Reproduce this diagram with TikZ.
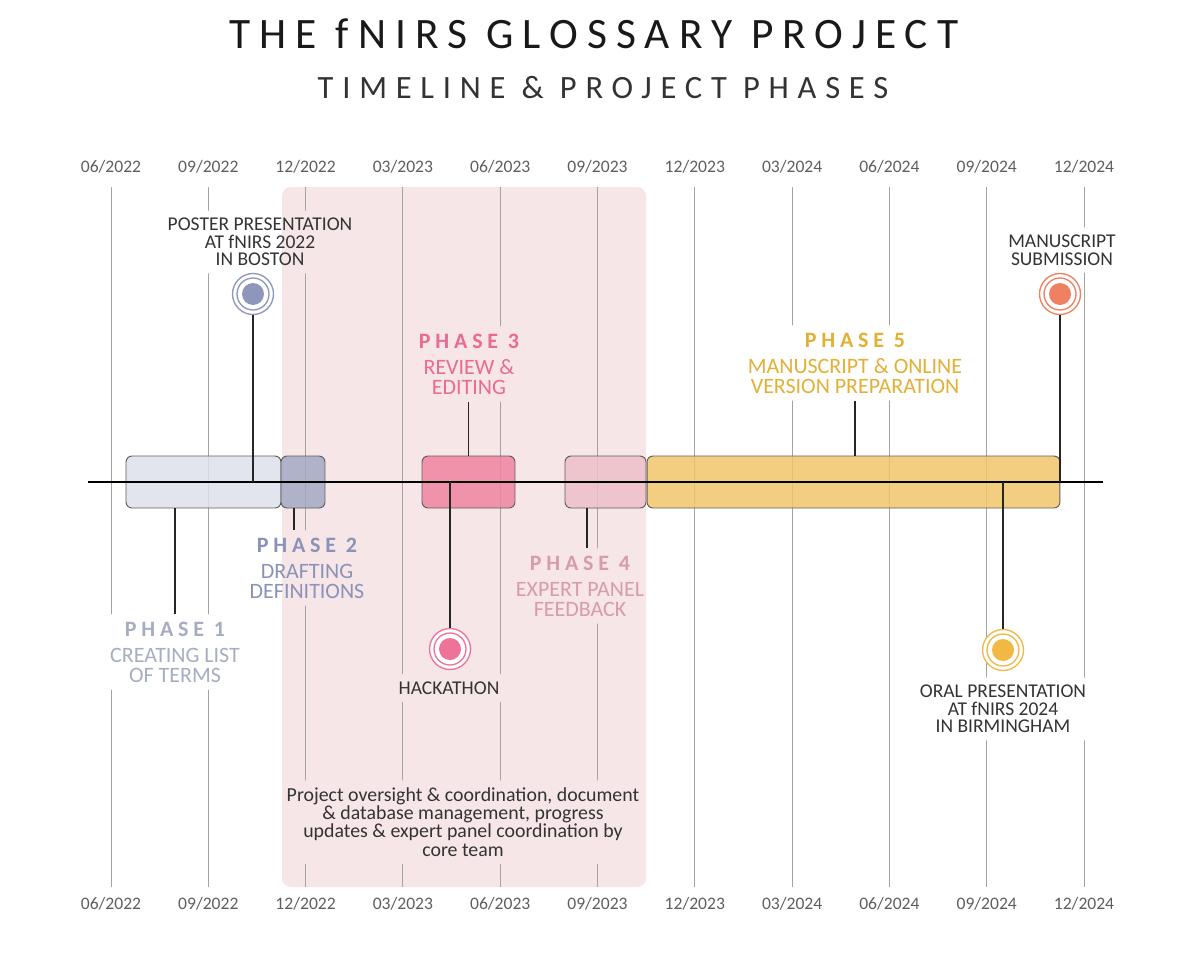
\documentclass[tikz,border=0pt]{standalone}
\usepackage{fontspec}
\setmainfont{Carlito}
\newfontfamily\titlefont[LetterSpace=21]{Carlito}
\newfontfamily\subtitlefont[LetterSpace=27]{Carlito}
\newfontfamily\phasefont[LetterSpace=22]{Carlito}
\usetikzlibrary{calc}

\definecolor{gridgray}{HTML}{A3A3A3}
\definecolor{dategray}{HTML}{5E5E5E}
\definecolor{eventgray}{HTML}{333333}
\definecolor{boxline}{HTML}{5E5E5E}
\definecolor{corepink}{HTML}{F7E6E8}
\definecolor{phOneFill}{HTML}{DDE1EA}
\definecolor{phTwoFill}{HTML}{A3AAC3}
\definecolor{phThreeFill}{HTML}{EF849F}
\definecolor{phFourFill}{HTML}{EDC0C9}
\definecolor{phFiveFill}{HTML}{F2C66A}
\definecolor{phOneText}{HTML}{A6ADC3}
\definecolor{phTwoText}{HTML}{8A92B7}
\definecolor{phThreeText}{HTML}{E96A93}
\definecolor{phFourText}{HTML}{D89BAB}
\definecolor{phFiveText}{HTML}{E4AF35}
\definecolor{dotBlue}{HTML}{8E96BC}
\definecolor{dotPink}{HTML}{EE7399}
\definecolor{dotGold}{HTML}{F1B944}
\definecolor{dotCoral}{HTML}{EF8060}

\pgfdeclarelayer{background}
\pgfsetlayers{background,main}

\tikzset{
  datelbl/.style={text=dategray, font=\fontsize{10}{12}\selectfont},
  eventlbl/.style={text=eventgray, align=center, inner sep=4pt,
    font=\fontsize{11.1}{10}\selectfont},
  phaselbl/.style={align=center, inner sep=4pt, font=\fontsize{12.5}{11.3}\selectfont},
  phasebox/.style={draw=boxline, line width=0.55pt, rounded corners=3.4pt,
    minimum height=1.04cm, fill opacity=0.85},
  evdot/.style={circle, draw=#1, line width=0.75pt, fill=white, minimum size=0.82cm,
    inner sep=0pt,
    path picture={\fill[#1] (path picture bounding box.center) circle (0.22cm);
      \draw[#1, line width=0.75pt] (path picture bounding box.center) circle (0.32cm);}},
  conn/.style={draw=black!85, line width=0.85pt},
  axisline/.style={draw=black, line width=1.2pt},
  gridline/.style={draw=gridgray, line width=0.5pt}
}

\begin{document}
\begin{tikzpicture}[x=0.02cm, y=-0.02cm]
\useasboundingbox (0,0) rectangle (1200,960);

% Title
\node[text=black!90, font=\titlefont\fontsize{24.7}{28}\selectfont] (title) at (594,34) {THE fNIRS GLOSSARY PROJECT};
\node[text=eventgray, font=\subtitlefont\fontsize{18.5}{22}\selectfont] (subtitle) at (603,88) {TIMELINE \& PROJECT PHASES};

% Dates, top and bottom
\foreach \d [count=\i from 0] in {06/2022,09/2022,12/2022,03/2023,06/2023,09/2023,12/2023,03/2024,06/2024,09/2024,12/2024} {
  \node[datelbl] (top\i) at ({111+97.3*\i},167) {\d};
  \node[datelbl] (bot\i) at ({111+97.3*\i},904) {\d};
}

% Phase boxes
\node[phasebox, fill=phOneFill, minimum width=3.1cm] (ph1) at (203.5,482) {};
\node[phasebox, fill=phTwoFill, minimum width=0.88cm] (ph2) at (303,482) {};
\node[phasebox, fill=phThreeFill, minimum width=1.86cm] (ph3) at (468.5,482) {};
\node[phasebox, fill=phFourFill, minimum width=1.62cm] (ph4) at (605.5,482) {};
\node[phasebox, fill=phFiveFill, minimum width=8.26cm] (ph5) at (853.5,482) {};

% Time axis
\coordinate (axisL) at (88,482);
\coordinate (axisR) at (1103,482);
\draw[axisline] (axisL) -- (axisR);

% Phase labels
\node[phaselbl, text=phOneText] (ph1txt) at (175,652) {{\phasefont\bfseries PHASE 1}\\[3.5pt]CREATING LIST\\OF TERMS};
\node[phaselbl, text=phTwoText] (ph2txt) at (307,568) {{\phasefont\bfseries PHASE 2}\\[3.5pt]DRAFTING\\DEFINITIONS};
\node[phaselbl, text=phThreeText] (ph3txt) at (469,364) {{\phasefont\bfseries PHASE 3}\\[3.5pt]REVIEW \&\\EDITING};
\node[phaselbl, text=phFourText] (ph4txt) at (580,586) {{\phasefont\bfseries PHASE 4}\\[3.5pt]EXPERT PANEL\\FEEDBACK};
\node[phaselbl, text=phFiveText] (ph5txt) at (855,363) {{\phasefont\bfseries PHASE 5}\\[3.5pt]MANUSCRIPT \& ONLINE\\VERSION PREPARATION};

\draw[conn] (ph1.south -| ph1txt.north) -- (ph1txt.north);
\draw[conn] ([xshift=-0.18cm]ph2.south) -- ([xshift=-0.18cm]ph2.south |- ph2txt.north);
\draw[conn] (ph3.north) -- (ph3.north |- ph3txt.south);
\draw[conn] ([xshift=-0.37cm]ph4.south) -- ([xshift=-0.37cm]ph4.south |- ph4txt.north);
\draw[conn] (ph5txt.south) -- (ph5txt.south |- ph5.north);

% Events
\node[evdot=dotBlue] (posterdot) at (253,294) {};
\node[eventlbl] (poster) at (260,242) {POSTER PRESENTATION\\AT fNIRS 2022\\IN BOSTON};
\coordinate (posterax) at (253,482);
\draw[conn] (posterdot) -- (posterax);

\node[evdot=dotPink] (hackdot) at (450,649) {};
\node[eventlbl] (hackathon) at (449,688) {HACKATHON};
\coordinate (hackax) at (450,482);
\draw[conn] (hackax) -- (hackdot);

\node[evdot=dotGold] (oraldot) at (1003,650) {};
\node[eventlbl] (oral) at (1003,709) {ORAL PRESENTATION\\AT fNIRS 2024\\IN BIRMINGHAM};
\coordinate (oralax) at (1003,482);
\draw[conn] (oralax) -- (oraldot);

\node[evdot=dotCoral] (msdot) at (1060,294) {};
\node[eventlbl] (manuscript) at (1062,250) {MANUSCRIPT\\SUBMISSION};
\coordinate (msax) at (1060,482);
\draw[conn] (msdot) -- (msax);

% Core team work
\node[eventlbl, font=\fontsize{11.3}{10.4}\selectfont] (coreteam) at (463,822) {Project oversight \& coordination, document\\\& database management, progress\\updates \& expert panel coordination by\\core team};

% Shaded core team period and month grid
\begin{pgfonlayer}{background}
  \fill[corepink, rounded corners=5pt] (282,187) rectangle (646,887);
  \begin{scope}[even odd rule]
    \clip (0,0) rectangle (1200,960)
      \foreach \n in {poster,manuscript,ph1txt,ph2txt,ph3txt,ph4txt,ph5txt,hackathon,oral,coreteam} {
        (\n.south west) rectangle (\n.north east)};
    \foreach \i in {0,...,10}
      \draw[gridline] (top\i |- 0,187) -- (top\i |- 0,887);
  \end{scope}
\end{pgfonlayer}
\end{tikzpicture}
\end{document}
